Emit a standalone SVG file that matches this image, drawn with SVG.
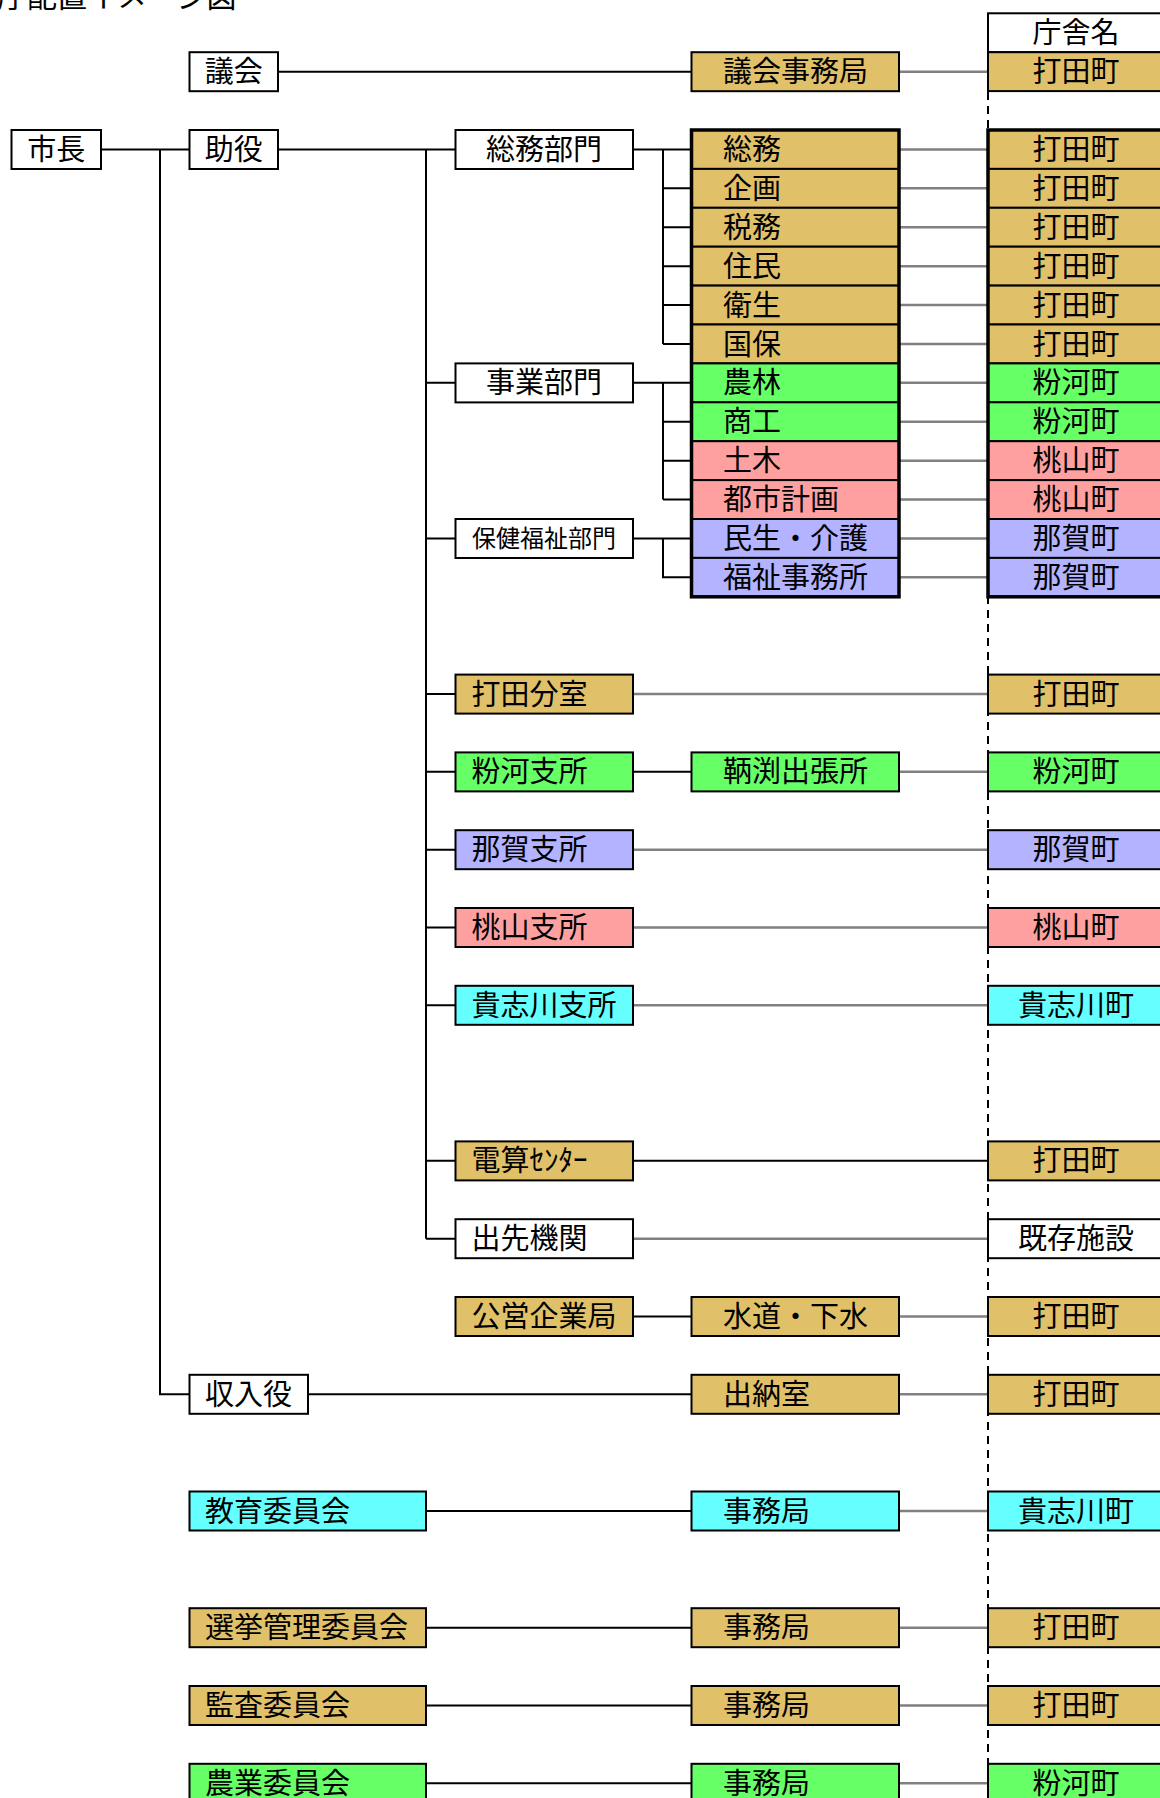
<svg xmlns="http://www.w3.org/2000/svg" width="1160" height="1798" viewBox="0 0 1160 1798">
<style>
text{font-family:"Noto Sans CJK JP","Noto Sans CJK SC",sans-serif;font-size:29px;fill:#000}
.ce{text-anchor:middle}
.sm{font-size:24px}
.ttl{font-size:30px}
rect{stroke:#000;stroke-width:2}
rect.bg{fill:#fff;stroke:none}
.w{fill:#fff}.t{fill:#E0C068}.g{fill:#66FF66}.p{fill:#FFA0A0}.v{fill:#B3B3FF}.c{fill:#66FFFF}
.frame{fill:none;stroke-width:3.5}
.k{fill:none;stroke:#000;stroke-width:2}
.gr{fill:none;stroke:#808080;stroke-width:2.5}
.dash{fill:none;stroke:#000;stroke-width:2;stroke-dasharray:8 6}
</style>
<rect class="bg" width="1160" height="1798"/>
<text class="ttl" x="-33" y="6.5">分庁配置イメージ図</text>

<g id="connectors">
<path class="dash" d="M988 92V1798"/>
<path class="k" d="M278 71.65H691.5M101 149.45H189.5M160 149.45V1394.25H189.5M278 149.45H455.5M426 149.45V1238.65
M426 382.85H455.5M426 538.45H455.5M426 694.05H455.5M426 771.85H455.5M426 849.65H455.5M426 927.45H455.5M426 1005.25H455.5M426 1160.85H455.5M426 1238.65H455.5
M633 149.45H691.5M663 149.45V343.95M663 188.35H691.5M663 227.25H691.5M663 266.15H691.5M663 305.05H691.5M663 343.95H691.5
M633 382.85H691.5M663 382.85V499.55M663 421.75H691.5M663 460.65H691.5M663 499.55H691.5
M633 538.45H691.5M663 538.45V577.35H691.5
M633 771.85H691.5M633 1160.85H988M633 1316.45H691.5M308 1394.25H691.5
M426 1510.95H691.5M426 1627.65H691.5M426 1705.45H691.5M426 1783.25H691.5"/>
<path class="gr" d="M899 71.65H988M899 149.45H988M899 188.35H988M899 227.25H988M899 266.15H988M899 305.05H988M899 343.95H988M899 382.85H988M899 421.75H988M899 460.65H988M899 499.55H988M899 538.45H988M899 577.35H988
M633 694.05H988M899 771.85H988M633 849.65H988M633 927.45H988M633 1005.25H988M633 1238.65H988M899 1316.45H988M899 1394.25H988
M899 1510.95H988M899 1627.65H988M899 1705.45H988M899 1783.25H988"/>
</g>

<g id="shicho"><rect class="w" x="11.5" y="130" width="89.5" height="39"/><text class="ce" x="56.3" y="160">市長</text></g>
<g id="gikai"><rect class="w" x="189.5" y="52.2" width="88.5" height="39"/><text class="ce" x="233.8" y="82.2">議会</text></g>
<g id="joyaku"><rect class="w" x="189.5" y="130" width="88.5" height="39"/><text class="ce" x="233.8" y="160">助役</text></g>
<g id="shunyuyaku"><rect class="w" x="189.5" y="1374.8" width="118.5" height="39"/><text x="205" y="1404.8">収入役</text></g>
<g id="kyoiku-iinkai"><rect class="c" x="189.5" y="1491.5" width="236.5" height="39"/><text x="205" y="1521.5">教育委員会</text></g>
<g id="senkyo-iinkai"><rect class="t" x="189.5" y="1608.2" width="236.5" height="39"/><text x="205" y="1638.2">選挙管理委員会</text></g>
<g id="kansa-iinkai"><rect class="t" x="189.5" y="1686" width="236.5" height="39"/><text x="205" y="1716">監査委員会</text></g>
<g id="nogyo-iinkai"><rect class="g" x="189.5" y="1763.8" width="236.5" height="39"/><text x="205" y="1793.8">農業委員会</text></g>

<g id="somu-bumon"><rect class="w" x="455.5" y="130" width="177.5" height="39"/><text class="ce" x="544" y="160">総務部門</text></g>
<g id="jigyo-bumon"><rect class="w" x="455.5" y="363.4" width="177.5" height="39"/><text class="ce" x="544" y="393.4">事業部門</text></g>
<g id="hoken-bumon"><rect class="w" x="455.5" y="519" width="177.5" height="39"/><text class="ce sm" x="544" y="547">保健福祉部門</text></g>
<g id="uchita-bunshitsu"><rect class="t" x="455.5" y="674.6" width="177.5" height="39"/><text x="471.5" y="704.6">打田分室</text></g>
<g id="kokawa-shisho"><rect class="g" x="455.5" y="752.4" width="177.5" height="39"/><text x="471.5" y="782.4">粉河支所</text></g>
<g id="naga-shisho"><rect class="v" x="455.5" y="830.2" width="177.5" height="39"/><text x="471.5" y="860.2">那賀支所</text></g>
<g id="momoyama-shisho"><rect class="p" x="455.5" y="908" width="177.5" height="39"/><text x="471.5" y="938">桃山支所</text></g>
<g id="kishigawa-shisho"><rect class="c" x="455.5" y="985.8" width="177.5" height="39"/><text x="471.5" y="1015.8">貴志川支所</text></g>
<g id="densan"><rect class="t" x="455.5" y="1141.4" width="177.5" height="39"/><text x="471.5" y="1171.4">電算ｾﾝﾀｰ</text></g>
<g id="desaki"><rect class="w" x="455.5" y="1219.2" width="177.5" height="39"/><text x="471.5" y="1249.2">出先機関</text></g>
<g id="koei"><rect class="t" x="455.5" y="1297" width="177.5" height="39"/><text x="471.5" y="1327">公営企業局</text></g>

<g id="gikai-jimukyoku"><rect class="t" x="691.5" y="52.2" width="207.5" height="39"/><text x="723" y="82.2">議会事務局</text></g>
<g id="ka-stack">
<rect class="t" x="691.5" y="130" width="207.5" height="38.9"/><text x="723" y="160">総務</text>
<rect class="t" x="691.5" y="168.9" width="207.5" height="38.9"/><text x="723" y="198.9">企画</text>
<rect class="t" x="691.5" y="207.8" width="207.5" height="38.9"/><text x="723" y="237.8">税務</text>
<rect class="t" x="691.5" y="246.7" width="207.5" height="38.9"/><text x="723" y="276.7">住民</text>
<rect class="t" x="691.5" y="285.6" width="207.5" height="38.9"/><text x="723" y="315.6">衛生</text>
<rect class="t" x="691.5" y="324.5" width="207.5" height="38.9"/><text x="723" y="354.5">国保</text>
<rect class="g" x="691.5" y="363.4" width="207.5" height="38.9"/><text x="723" y="393.4">農林</text>
<rect class="g" x="691.5" y="402.3" width="207.5" height="38.9"/><text x="723" y="432.3">商工</text>
<rect class="p" x="691.5" y="441.2" width="207.5" height="38.9"/><text x="723" y="471.2">土木</text>
<rect class="p" x="691.5" y="480.1" width="207.5" height="38.9"/><text x="723" y="510.1">都市計画</text>
<rect class="v" x="691.5" y="519" width="207.5" height="38.9"/><text x="723" y="549">民生・介護</text>
<rect class="v" x="691.5" y="557.9" width="207.5" height="38.9"/><text x="723" y="587.9">福祉事務所</text>
<rect class="frame" x="691.5" y="130" width="207.5" height="466.8"/>
</g>
<g id="tomobuchi"><rect class="g" x="691.5" y="752.4" width="207.5" height="39"/><text x="723" y="782.4">鞆渕出張所</text></g>
<g id="suido"><rect class="t" x="691.5" y="1297" width="207.5" height="39"/><text x="723" y="1327">水道・下水</text></g>
<g id="suitoshitsu"><rect class="t" x="691.5" y="1374.8" width="207.5" height="39"/><text x="723" y="1404.8">出納室</text></g>
<g id="kyoiku-jimukyoku"><rect class="c" x="691.5" y="1491.5" width="207.5" height="39"/><text x="723" y="1521.5">事務局</text></g>
<g id="senkyo-jimukyoku"><rect class="t" x="691.5" y="1608.2" width="207.5" height="39"/><text x="723" y="1638.2">事務局</text></g>
<g id="kansa-jimukyoku"><rect class="t" x="691.5" y="1686" width="207.5" height="39"/><text x="723" y="1716">事務局</text></g>
<g id="nogyo-jimukyoku"><rect class="g" x="691.5" y="1763.8" width="207.5" height="39"/><text x="723" y="1793.8">事務局</text></g>

<g id="chosha-header"><rect class="w" x="988" y="13.3" width="176" height="38.9"/><text class="ce" x="1076" y="43.3">庁舎名</text>
<rect class="t" x="988" y="52.2" width="176" height="38.9"/><text class="ce" x="1076" y="82.2">打田町</text></g>
<g id="chosha-stack">
<rect class="t" x="988" y="130" width="176" height="38.9"/><text class="ce" x="1076" y="160">打田町</text>
<rect class="t" x="988" y="168.9" width="176" height="38.9"/><text class="ce" x="1076" y="198.9">打田町</text>
<rect class="t" x="988" y="207.8" width="176" height="38.9"/><text class="ce" x="1076" y="237.8">打田町</text>
<rect class="t" x="988" y="246.7" width="176" height="38.9"/><text class="ce" x="1076" y="276.7">打田町</text>
<rect class="t" x="988" y="285.6" width="176" height="38.9"/><text class="ce" x="1076" y="315.6">打田町</text>
<rect class="t" x="988" y="324.5" width="176" height="38.9"/><text class="ce" x="1076" y="354.5">打田町</text>
<rect class="g" x="988" y="363.4" width="176" height="38.9"/><text class="ce" x="1076" y="393.4">粉河町</text>
<rect class="g" x="988" y="402.3" width="176" height="38.9"/><text class="ce" x="1076" y="432.3">粉河町</text>
<rect class="p" x="988" y="441.2" width="176" height="38.9"/><text class="ce" x="1076" y="471.2">桃山町</text>
<rect class="p" x="988" y="480.1" width="176" height="38.9"/><text class="ce" x="1076" y="510.1">桃山町</text>
<rect class="v" x="988" y="519" width="176" height="38.9"/><text class="ce" x="1076" y="549">那賀町</text>
<rect class="v" x="988" y="557.9" width="176" height="38.9"/><text class="ce" x="1076" y="587.9">那賀町</text>
<rect class="frame" x="988" y="130" width="176" height="466.8"/>
</g>
<g id="chosha-uchita1"><rect class="t" x="988" y="674.6" width="176" height="39"/><text class="ce" x="1076" y="704.6">打田町</text></g>
<g id="chosha-kokawa1"><rect class="g" x="988" y="752.4" width="176" height="39"/><text class="ce" x="1076" y="782.4">粉河町</text></g>
<g id="chosha-naga"><rect class="v" x="988" y="830.2" width="176" height="39"/><text class="ce" x="1076" y="860.2">那賀町</text></g>
<g id="chosha-momoyama"><rect class="p" x="988" y="908" width="176" height="39"/><text class="ce" x="1076" y="938">桃山町</text></g>
<g id="chosha-kishigawa1"><rect class="c" x="988" y="985.8" width="176" height="39"/><text class="ce" x="1076" y="1015.8">貴志川町</text></g>
<g id="chosha-uchita2"><rect class="t" x="988" y="1141.4" width="176" height="39"/><text class="ce" x="1076" y="1171.4">打田町</text></g>
<g id="chosha-kison"><rect class="w" x="988" y="1219.2" width="176" height="39"/><text class="ce" x="1076" y="1249.2">既存施設</text></g>
<g id="chosha-uchita3"><rect class="t" x="988" y="1297" width="176" height="39"/><text class="ce" x="1076" y="1327">打田町</text></g>
<g id="chosha-uchita4"><rect class="t" x="988" y="1374.8" width="176" height="39"/><text class="ce" x="1076" y="1404.8">打田町</text></g>
<g id="chosha-kishigawa2"><rect class="c" x="988" y="1491.5" width="176" height="39"/><text class="ce" x="1076" y="1521.5">貴志川町</text></g>
<g id="chosha-uchita5"><rect class="t" x="988" y="1608.2" width="176" height="39"/><text class="ce" x="1076" y="1638.2">打田町</text></g>
<g id="chosha-uchita6"><rect class="t" x="988" y="1686" width="176" height="39"/><text class="ce" x="1076" y="1716">打田町</text></g>
<g id="chosha-kokawa2"><rect class="g" x="988" y="1763.8" width="176" height="39"/><text class="ce" x="1076" y="1793.8">粉河町</text></g>
</svg>
